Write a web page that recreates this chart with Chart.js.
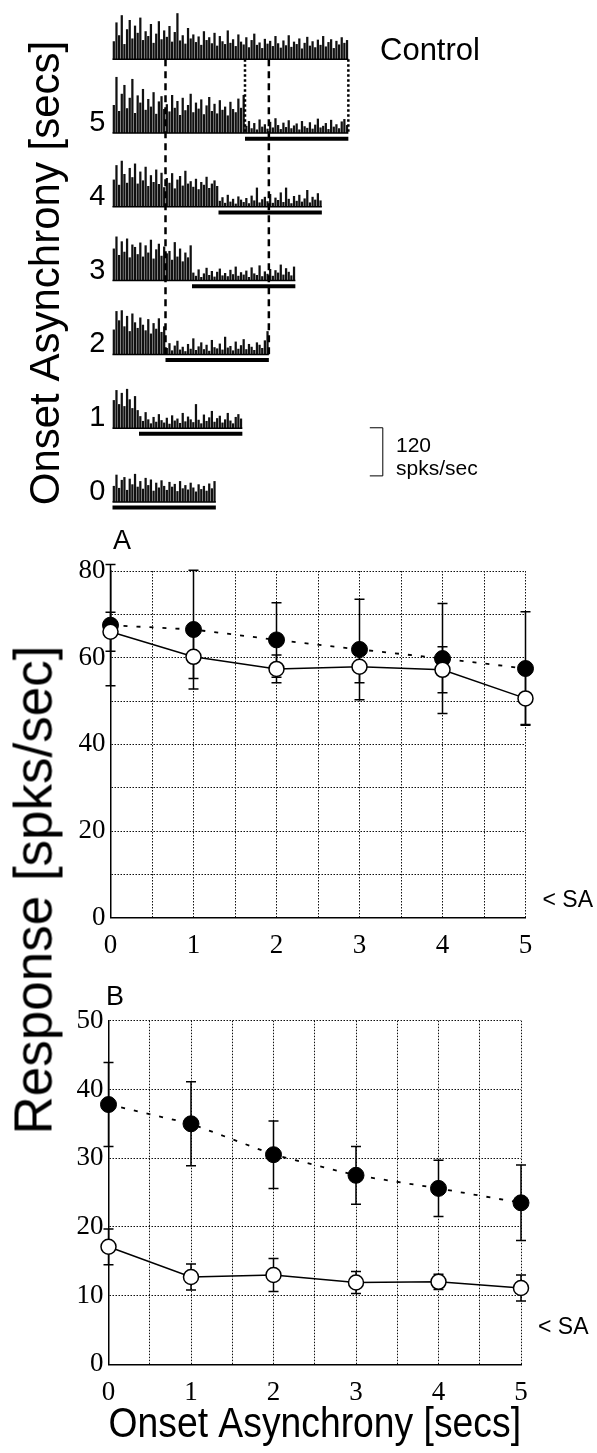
<!DOCTYPE html>
<html>
<head>
<meta charset="utf-8">
<title>Onset asynchrony</title>
<script src="https://cdn.jsdelivr.net/npm/chart.js@4.4.1/dist/chart.umd.min.js"></script>
<style>
  html, body { margin: 0; padding: 0; background: #fff; }
  #fig { position: relative; width: 597px; height: 1453px; overflow: hidden; background: #fff;
         font-family: "Liberation Sans", Arial, sans-serif; color: #000; }
  #fig canvas { position: absolute; left: 0; }
  .lbl { position: absolute; white-space: nowrap; line-height: 1; }
  .rot { transform: translate(-50%, -50%) rotate(-90deg); }
</style>
</head>
<body>
<div id="fig">
  <canvas id="psth" width="597" height="530" style="top:0"></canvas>
  <canvas id="panelA" width="597" height="450" style="top:520px"></canvas>
  <canvas id="panelB" width="597" height="483" style="top:970px"></canvas>
  <div class="lbl" style="left:380px;top:34px;font-size:31px">Control</div>
  <div class="lbl" style="left:396px;top:434px;font-size:21px">120</div>
  <div class="lbl" style="left:396px;top:457px;font-size:21px">spks/sec</div>
  <div class="lbl" style="left:113px;top:527px;font-size:27px">A</div>
  <div class="lbl" style="left:106px;top:983px;font-size:27px">B</div>
  <div class="lbl rot" style="left:33px;top:890px;font-size:53px">Response [spks/sec]</div>
</div>
<script>
// histogram bin (s), duration of the second tone (s)
const BIN = 0.1;
const STIM_DUR = 3.9;
const ROW_STEP = 184;      // spacing between histogram rows, in spks/sec
const BAR_DROP = 14;       // tone bar sits just under the histogram baseline
const SCALE_T = 10.2;      // 120 spks/sec bracket: time position, bottom, size
const SCALE_FROM = 65;
const SCALE_SIZE = 120;

const asynchronies = [0, 1, 2, 3, 4, 5];

// spike rate per 100 ms bin (spks/sec)
const control = [45, 92, 60, 110, 38, 75, 98, 52, 84, 66,
                 104, 48, 70, 58, 88, 41, 64, 95, 50, 72,
                 56, 83, 44, 68, 115, 47, 60, 39, 78, 52,
                 62, 43, 57, 36, 70, 48, 55, 40, 66, 34,
                 58, 45, 38, 72, 41, 50, 33, 62, 44, 37,
                 55, 30, 48, 64, 36, 42, 28, 51, 39, 46,
                 33, 58, 40, 29, 47, 35, 60, 31, 44, 38,
                 52, 27, 41, 56, 34, 45, 30, 49, 36, 58,
                 32, 43, 50, 28, 46, 37, 55, 41, 48];
const psth5 = [70, 140, 55, 98, 120, 62, 88, 135, 50, 94,
               76, 110, 58, 85, 66, 102, 48, 79, 92, 60,
               72, 54, 95, 63, 80, 45, 88, 57, 70, 98,
               52, 76, 61, 84, 47, 69, 90, 55, 73, 49,
               82, 58, 66, 44, 78, 60, 52, 86, 63, 95,
               18, 30, 12, 25, 9, 34, 16, 22, 11, 28,
               14, 37, 20, 10, 26, 15, 32, 12, 19, 24,
               9, 30, 17, 13, 27, 11, 21, 36, 14, 18,
               25, 10, 33, 16, 22, 12, 29, 35, 20];
const psth4 = [68, 104, 55, 115, 82, 60, 97, 74, 108, 58,
               88, 66, 100, 52, 79, 62, 93, 57, 85, 49,
               72, 60, 84, 46, 68, 77, 53, 90, 58, 64,
               50, 70, 44, 62, 55, 75, 47, 58, 66, 52,
               15, 24, 10, 30, 13, 20, 8, 26, 18, 12,
               22, 9, 28, 16, 48, 11, 19, 25, 14, 32,
               10, 23, 17, 36, 12, 48, 20, 9, 27, 15,
               30, 13, 21, 42, 11, 25, 18, 34, 16];
const psth3 = [80, 110, 64, 98, 72, 105, 58, 90, 84, 66,
               95, 60, 88, 70, 102, 55, 78, 92, 62, 85,
               68, 74, 52, 96, 60, 80, 48, 70, 58, 88,
               20, 12, 28, 9, 18, 32, 14, 24, 10, 22,
               30, 13, 19, 11, 27, 16, 35, 12, 21, 15,
               25, 9, 33, 18, 14, 38, 11, 23, 17, 29,
               12, 26, 20, 40, 15, 31, 22, 13, 35];
const psth2 = [62, 108, 85, 110, 70, 96, 58, 102, 80, 66,
               92, 74, 60, 88, 52, 78, 64, 90, 56, 70,
               16, 28, 10, 22, 34, 12, 19, 8, 26, 14,
               40, 11, 20, 30, 13, 24, 9, 36, 18, 15,
               27, 12, 44, 17, 21, 10, 32, 14, 23, 38,
               13, 26, 19, 11, 30, 24, 16, 35, 58];
const psth1 = [70, 95, 60, 88, 55, 98, 72, 50, 80, 45,
               30, 18, 40, 22, 12, 28, 16, 35, 20, 14,
               26, 11, 32, 19, 24, 13, 38, 17, 29, 22,
               15, 60, 21, 12, 34, 18, 27, 43, 16, 25,
               31, 14, 22, 38, 19, 12, 28, 35, 24];
const psth0 = [40, 68, 35, 55, 62, 30, 58, 44, 70, 38,
               52, 33, 60, 42, 56, 28, 48, 36, 54, 40,
               30, 50, 38, 45, 27, 52, 34, 42, 31, 48,
               36, 26, 44, 32, 40, 28, 46, 34, 52];

// panel A: mean response and error per asynchrony
const filledA = [67.5, 66.5, 64.1, 61.9, 59.8, 57.5];
const filledAErr = [14.0, 13.7, 8.6, 11.6, 12.7, 13.1];
const openA = [66.0, 60.2, 57.4, 57.9, 57.2, 50.6];
const openAErr = [4.5, 5.0, 3.2, 3.7, 5.3, 6.0];
const saA = 4;

// panel B
const filledB = [37.8, 35.0, 30.5, 27.5, 25.6, 23.5];
const filledBErr = [6.1, 6.1, 4.9, 4.2, 4.1, 5.5];
const openB = [17.1, 12.7, 13.0, 11.9, 12.0, 11.1];
const openBErr = [2.6, 1.9, 2.4, 1.6, 1.1, 1.9];
const saB = 5.4;

Chart.defaults.font.family = '"Liberation Sans", Arial, sans-serif';
Chart.defaults.color = '#000';

// ---------- spike histograms ----------
const histRows = [psth0, psth1, psth2, psth3, psth4, psth5, control];
const bars = [];
histRows.forEach((vals, k) => {
  vals.forEach((v, i) => bars.push({ x: (i + 0.5) * BIN, y: [k * ROW_STEP, k * ROW_STEP + v] }));
});

const psthMarks = {
  id: 'psthMarks',
  afterDatasetsDraw(chart) {
    const { ctx, scales: { x, y } } = chart;
    const line = (t0, v0, t1, v1) => {
      ctx.beginPath();
      ctx.moveTo(x.getPixelForValue(t0), y.getPixelForValue(v0));
      ctx.lineTo(x.getPixelForValue(t1), y.getPixelForValue(v1));
      ctx.stroke();
    };
    ctx.save();
    ctx.strokeStyle = '#000';
    // baselines
    ctx.lineWidth = 1.5;
    histRows.forEach((vals, k) => line(0, k * ROW_STEP, vals.length * BIN, k * ROW_STEP));
    // second tone
    ctx.lineWidth = 4;
    asynchronies.forEach((a, k) => line(a, k * ROW_STEP - BAR_DROP, a + STIM_DUR, k * ROW_STEP - BAR_DROP));
    // tone on/offset markers
    ctx.lineWidth = 2.5;
    ctx.setLineDash([7, 5]);
    [2, 2 + STIM_DUR].forEach(t => line(t, 6 * ROW_STEP, t, 2 * ROW_STEP));
    ctx.setLineDash([2.5, 2.5]);
    [5, 5 + STIM_DUR].forEach(t => line(t, 6 * ROW_STEP, t, 5 * ROW_STEP));
    ctx.setLineDash([]);
    // rate scale bracket
    ctx.lineWidth = 1;
    const bx = x.getPixelForValue(SCALE_T);
    const b0 = y.getPixelForValue(SCALE_FROM), b1 = y.getPixelForValue(SCALE_FROM + SCALE_SIZE);
    ctx.beginPath();
    ctx.moveTo(bx - 13, b1); ctx.lineTo(bx, b1); ctx.lineTo(bx, b0); ctx.lineTo(bx - 13, b0);
    ctx.stroke();
    ctx.restore();
  }
};

new Chart(document.getElementById('psth'), {
  type: 'bar',
  data: { datasets: [{ data: bars, backgroundColor: '#111', borderWidth: 0,
                       barPercentage: 0.85, categoryPercentage: 1, clip: false }] },
  options: {
    responsive: false, animation: false, events: [],
    layout: { padding: { top: 20, right: 219.5, bottom: 4, left: 0 } },
    plugins: { legend: { display: false }, tooltip: { enabled: false } },
    scales: {
      x: { type: 'linear', min: 0, max: 10, offset: false, display: false },
      y: {
        min: -60, max: 1202,
        afterBuildTicks: s => { s.ticks = asynchronies.map((a, k) => ({ value: k * ROW_STEP })); },
        ticks: { callback: (v, i) => String(asynchronies[i]), font: { size: 29 }, color: '#000',
                 padding: 7, labelOffset: -10 },
        grid: { display: false, drawTicks: false },
        border: { display: false },
        title: { display: true, text: 'Onset Asynchrony [secs]', font: { size: 42 }, color: '#000',
                 padding: { top: 22, bottom: 0 } },
        afterFit: s => { s.width = 112.5; s.paddingTop = 0; s.paddingBottom = 0; }
      }
    }
  },
  plugins: [psthMarks]
});

// ---------- response panels ----------
const errorBars = {
  id: 'errorBars',
  beforeDatasetsDraw(chart) {
    const { ctx, scales: { x, y } } = chart;
    ctx.save();
    ctx.strokeStyle = '#000';
    ctx.lineWidth = 1.5;
    chart.data.datasets.forEach(ds => {
      ds.data.forEach((p, i) => {
        const px = x.getPixelForValue(p.x);
        const top = y.getPixelForValue(p.y + ds.err[i]);
        const bot = y.getPixelForValue(p.y - ds.err[i]);
        ctx.beginPath();
        ctx.moveTo(px, top); ctx.lineTo(px, bot);
        ctx.moveTo(px - 5, top); ctx.lineTo(px + 5, top);
        ctx.moveTo(px - 5, bot); ctx.lineTo(px + 5, bot);
        ctx.stroke();
      });
    });
    ctx.restore();
  }
};

const saMarker = {
  id: 'saMarker',
  afterDraw(chart, args, opts) {
    const { ctx, chartArea, scales: { y } } = chart;
    ctx.save();
    ctx.font = '23px "Liberation Sans", Arial, sans-serif';
    ctx.fillStyle = '#000';
    ctx.textBaseline = 'middle';
    ctx.fillText('< SA', chartArea.right + 17, y.getPixelForValue(opts.level));
    ctx.restore();
  }
};

function responsePanel(id, p) {
  const serif = { family: '"Liberation Serif", "Times New Roman", serif', size: 27 };
  const gridStyle = { color: '#111', lineWidth: 1, drawTicks: false };
  const borderStyle = { color: '#000', width: 1.5, dash: [1.5, 1.5] };
  return new Chart(document.getElementById(id), {
    type: 'line',
    data: {
      datasets: [
        { data: asynchronies.map((x, i) => ({ x, y: p.open[i] })), err: p.openErr,
          borderColor: '#000', borderWidth: 1.5, pointRadius: 7.5, pointBorderWidth: 1.5,
          pointBackgroundColor: '#fff', pointBorderColor: '#000', clip: false },
        { data: asynchronies.map((x, i) => ({ x, y: p.filled[i] })), err: p.filledErr,
          borderColor: '#000', borderWidth: 1.8, borderDash: [4, 9], pointRadius: 8, pointBorderWidth: 1,
          pointBackgroundColor: '#000', pointBorderColor: '#000', clip: false }
      ]
    },
    options: {
      responsive: false, animation: false, events: [],
      layout: { padding: { top: p.top, right: p.right, left: 0, bottom: 0 } },
      plugins: { legend: { display: false }, tooltip: { enabled: false }, saMarker: { level: p.sa } },
      scales: {
        x: {
          type: 'linear', min: 0, max: 5,
          ticks: { stepSize: 0.5, autoSkip: false, maxRotation: 0, padding: 12, color: '#000', font: serif,
                   callback: v => Number.isInteger(v) ? String(v) : '' },
          grid: gridStyle, border: borderStyle,
          title: p.xTitle
            ? { display: true, text: p.xTitle, font: { size: 42 }, color: '#000', padding: { top: 0, bottom: 2 } }
            : { display: false },
          afterFit: s => { s.height = p.xAxisH; s.paddingLeft = 0; s.paddingRight = 0; }
        },
        y: {
          min: 0, max: p.yMax,
          ticks: { stepSize: p.yStep, padding: 5, color: '#000', font: serif,
                   callback: v => v % p.labelStep === 0 ? String(v) : '' },
          grid: gridStyle, border: borderStyle,
          afterFit: s => { s.width = p.left; s.paddingTop = 0; s.paddingBottom = 0; }
        }
      }
    },
    plugins: [errorBars, saMarker]
  });
}

responsePanel('panelA', {
  open: openA, openErr: openAErr, filled: filledA, filledErr: filledAErr, sa: saA,
  yMax: 80, yStep: 10, labelStep: 20,
  top: 51, right: 71.5, left: 110.5, xAxisH: 52.3
});

responsePanel('panelB', {
  open: openB, openErr: openBErr, filled: filledB, filledErr: filledBErr, sa: saB,
  yMax: 50, yStep: 5, labelStep: 10,
  top: 50.7, right: 76, left: 108.5, xAxisH: 88.7,
  xTitle: 'Onset Asynchrony [secs]'
});
</script>
</body>
</html>
